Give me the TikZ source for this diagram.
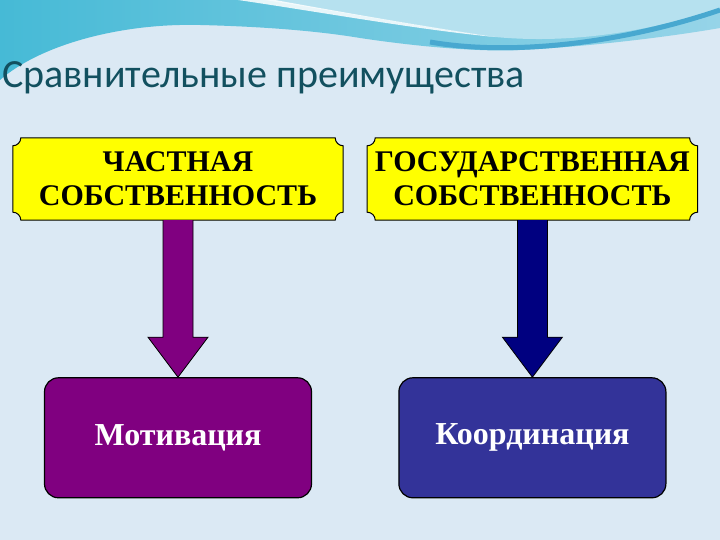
\documentclass[tikz,border=0pt]{standalone}
\usepackage{fontspec}
\setmainfont{Liberation Serif}
\newfontfamily\titlefont{Carlito}
\usetikzlibrary{positioning,calc,backgrounds}

\definecolor{slidebg}{RGB}{219,233,244}
\definecolor{wavedark}{RGB}{70,186,214}
\definecolor{wavelight}{RGB}{150,212,232}
\definecolor{waveband}{RGB}{72,168,208}
\definecolor{titleteal}{RGB}{18,80,95}
\definecolor{plaqueyellow}{RGB}{255,255,0}
\definecolor{motivpurple}{RGB}{128,0,128}
\definecolor{arrownavy}{RGB}{0,0,128}
\definecolor{koordblue}{RGB}{51,51,153}

\begin{document}
\begin{tikzpicture}[x=1pt,y=1pt,
    plaque/.style={minimum width=330pt, minimum height=82pt, inner sep=0pt, align=center,
        font=\bfseries\fontsize{30}{34}\selectfont},
    plaqueline/.style={draw=black, fill=plaqueyellow, line width=1pt},
    result/.style={draw=black, line width=1.2pt, rounded corners=14pt,
        minimum width=267pt, minimum height=120pt, text=white,
        font=\bfseries\fontsize{32}{36}\selectfont},
    blockarrow/.style={draw=black, line width=0.8pt}]

    % slide background
    \useasboundingbox (0,0) rectangle (720,540);
    \begin{pgfonlayer}{background}
        \fill[slidebg] (0,0) rectangle (720,540);
        \shade[left color=wavedark, right color=wavelight]
            (0,540) -- (0,460) .. controls (40,495) and (120,517) .. (200,515)
            .. controls (280,513) and (330,507) .. (360,502)
            .. controls (420,493) and (480,488) .. (520,490)
            .. controls (600,494) and (680,505) .. (720,512) -- (720,540) -- cycle;
        \fill[wavelight!70!white] (265,540) .. controls (340,528) and (430,512) .. (495,503)
            .. controls (580,495) and (660,512) .. (720,532) -- (720,540) -- cycle;
        \draw[waveband, line width=5pt] (430,498) .. controls (510,484) and (620,496) .. (720,530);
        \fill[white, opacity=0.85] (238,540) .. controls (320,528) and (420,510) .. (495,503)
            .. controls (420,514) and (330,530) .. (275,540) -- cycle;
    \end{pgfonlayer}

    \node[anchor=base west, inner sep=0pt, text=titleteal,
        font=\titlefont\fontsize{40}{46}\selectfont] (title) at (2,452) {Сравнительные преимущества};

    \node[plaque] (chast) at (178,361) {ЧАСТНАЯ\\СОБСТВЕННОСТЬ};
    \node[plaque, right=24pt of chast] (gos) {ГОСУДАРСТВЕННАЯ\\СОБСТВЕННОСТЬ};

    \node[result, fill=motivpurple, below=157pt of chast] (motiv) {Мотивация};
    \node[result, fill=koordblue, below=157pt of gos] (koord) {Координация};

    % plaques with notched corners
    \begin{pgfonlayer}{background}
        \foreach \n in {chast,gos}
            \draw[plaqueline] ($(\n.north west)+(8,0)$) -- ($(\n.north east)+(-8,0)$)
                arc[start angle=180, end angle=270, radius=8] -- ($(\n.south east)+(0,8)$)
                arc[start angle=90, end angle=180, radius=8] -- ($(\n.south west)+(8,0)$)
                arc[start angle=0, end angle=90, radius=8] -- ($(\n.north west)+(0,-8)$)
                arc[start angle=270, end angle=360, radius=8] -- cycle;
    \end{pgfonlayer}

    % block arrows
    \foreach \a/\b/\c in {chast/motiv/motivpurple, gos/koord/arrownavy}
        \draw[blockarrow, fill=\c] ($(\a.south)+(-15,0)$) -- ($(\b.north)+(-15,40)$)
            -- ($(\b.north)+(-30,40)$) -- (\b.north) -- ($(\b.north)+(30,40)$)
            -- ($(\b.north)+(15,40)$) -- ($(\a.south)+(15,0)$);
\end{tikzpicture}
\end{document}
